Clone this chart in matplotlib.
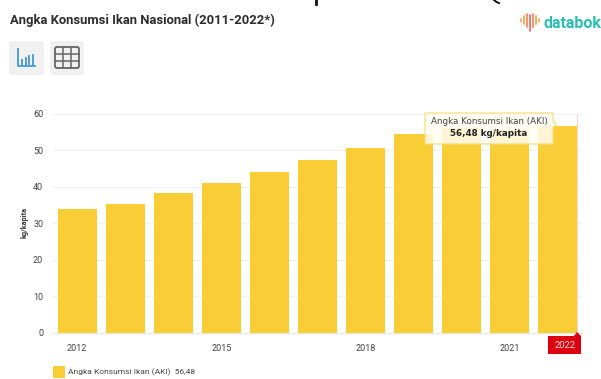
#!/usr/bin/env python
"""Bar chart of Indonesia's national fish consumption figure, 2012-2022."""
import matplotlib

matplotlib.use("Agg")
import matplotlib.pyplot as plt
from matplotlib.patches import FancyBboxPatch, Polygon, Rectangle

years = ["2012", "2013", "2014", "2015", "2016", "2017", "2018", "2019", "2020", "2021", "2022"]
aki = [33.89, 35.21, 38.14, 41.11, 43.94, 47.34, 50.69, 54.49, 55.95, 55.37, 56.48]
year_labels = {"2012", "2015", "2018", "2021"}
y_ticks = [0, 10, 20, 30, 40, 50, 60]

W, H = 601, 379
YELLOW = "#f8cd35"
TEAL = "#2bbdb5"

plt.rcParams["font.family"] = ["Roboto", "DejaVu Sans"]

fig = plt.figure(figsize=(W / 100, H / 100), dpi=100)
ax = fig.add_axes([53 / W, 1 - 333 / H, 529 / W, 219.5 / H])

x = range(len(years))
ax.bar(x, aki, width=0.81, color=YELLOW, zorder=2)
ax.set_xlim(-0.5, 10.5)
ax.set_ylim(0, 60)
ax.set_yticks(y_ticks)
ax.set_yticklabels([str(v) for v in y_ticks], fontsize=6.5, color="#444444")
ax.set_xticks([i for i, y in enumerate(years) if y in year_labels])
ax.set_xticklabels([y for y in years if y in year_labels], fontsize=6.5, color="#444444")
ax.tick_params(length=0, axis="y", pad=7)
ax.tick_params(length=0, axis="x", pad=8)
ax.grid(axis="y", color="#f1f1f1", lw=0.9, zorder=0)
for side in ("top", "right", "left"):
    ax.spines[side].set_visible(False)
ax.spines["bottom"].set_color("#e8e8e8")
ax.set_axisbelow(True)
# crosshair on the hovered year
ax.axvline(10 + 0.405, color="#fbd5d5", lw=0.8, zorder=1)

# everything around the axes is placed in pixel space
page = fig.add_axes([0, 0, 1, 1], zorder=5)
page.set_xlim(0, W)
page.set_ylim(H, 0)
page.axis("off")

page.text(25, 222, "kg/kapita", rotation=90, fontsize=5.2, fontweight="bold",
          color="#333333", ha="center", va="center")

page.text(10, 20, "Angka Konsumsi Ikan Nasional (2011-2022*)", fontsize=9.4,
          fontweight="bold", color="#2c2c2c", va="center")

# bits of a heading clipped by the top edge
page.plot([315.5, 315.5], [0, 4], color="#111111", lw=2)
page.plot([494, 496.5, 499], [0, 2, 3], color="#111111", lw=1.4)

# chart / table toggle buttons
for bx, bw in ((10, 33), (51, 32)):
    page.add_patch(FancyBboxPatch((bx, 42), bw, 32, boxstyle="round,pad=0,rounding_size=2",
                                  fc="#f1f1f1", ec="#ebebeb", lw=0.8))
page.plot([18, 18, 35], [49, 66, 66], color="#4f9fd3", lw=1.4)
for bx, top in zip((21.7, 25.5, 29.3, 33), (60, 58, 56, 55)):
    page.plot([bx, bx], [64, top], color="#4f9fd3", lw=1.4)
page.add_patch(FancyBboxPatch((55, 47), 24, 21, boxstyle="round,pad=0,rounding_size=2",
                              fc="none", ec="#666666", lw=1.3))
for gx in (63, 71):
    page.plot([gx, gx], [47, 68], color="#666666", lw=1.1)
for gy in (54, 61):
    page.plot([55, 79], [gy, gy], color="#666666", lw=1.1)

# logo mark and wordmark
mark_x = [521, 524, 527, 530, 533, 536, 539]
mark_top = [19, 16, 14, 15, 14, 16, 19]
mark_bot = [22, 24, 27, 31, 27, 24, 22]
mark_col = ["#f9b35e", "#f7a35c", "#f08a5d", "#ee6b6b", "#f08a5d", "#f7a35c", "#f9b35e"]
for bx, t, b, c in zip(mark_x, mark_top, mark_bot, mark_col):
    page.plot([bx, bx], [t, b], color=c, lw=1.3, solid_capstyle="round")
page.text(543, 23, "databok", fontsize=11.5, fontweight="bold", color=TEAL, va="center")

# tooltip for the latest year
page.add_patch(Polygon([[425, 113], [553, 113], [553, 120], [556, 124], [553, 128],
                        [553, 144], [425, 144]], closed=True, fc="#fffdf3", ec="#f9dc78",
                       lw=1.0, alpha=0.85))
page.text(489, 122, "Angka Konsumsi Ikan (AKI)", fontsize=6.3, color="#444444",
          ha="center", va="center", family="DejaVu Sans")
page.text(489, 134, "56,48 kg/kapita", fontsize=6.3, fontweight="bold", color="#222222",
          ha="center", va="center", family="DejaVu Sans")

# red marker under the latest year
page.add_patch(Polygon([[548, 336], [574, 336], [577, 332], [581, 336], [581, 354], [548, 354]],
                       closed=True, fc="#dc0010", ec="none"))
page.text(565, 345, "2022", fontsize=6.8, color="#ffdede", ha="center", va="center")

# legend
page.add_patch(Rectangle((53, 366), 12, 12, fc=YELLOW, ec="none"))
page.text(68, 372, "Angka Konsumsi Ikan (AKI)  56,48", fontsize=6.0, color="#444444", va="center")

fig.savefig("out.png", dpi=100)
